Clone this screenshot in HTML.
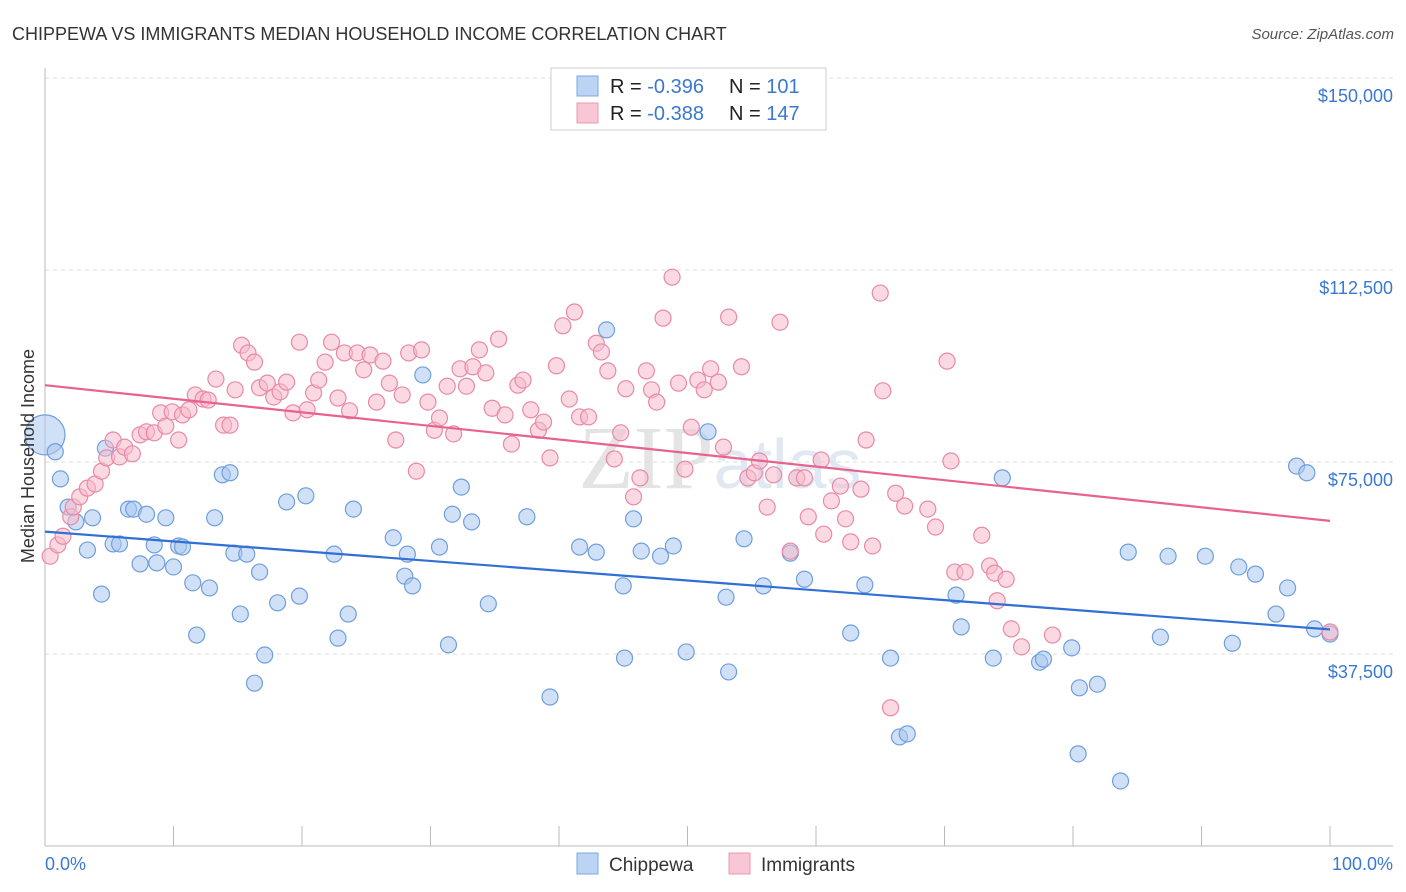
<!DOCTYPE html>
<html><head><meta charset="utf-8"><style>
body{margin:0;background:#fff;font-family:"Liberation Sans",sans-serif;}
svg{display:block}
</style></head><body>
<svg id="chart" width="1406" height="892">
<text x="12" y="40" font-size="18" fill="#333">CHIPPEWA VS IMMIGRANTS MEDIAN HOUSEHOLD INCOME CORRELATION CHART</text>
<text x="1394" y="39" font-size="15" fill="#555" font-style="italic" text-anchor="end">Source: ZipAtlas.com</text>
<text x="720" y="488" font-size="90" fill="#e4e4e4" text-anchor="middle" font-family="Liberation Serif,serif">ZIP<tspan fill="#dfe8f3" font-family="Liberation Sans,sans-serif" font-size="70">atlas</tspan></text>
<g id="grid"></g><g id="axes"></g><g id="pts"></g><g id="lines"></g>
<g>
<rect x="551" y="68" width="275" height="62" fill="#fff" stroke="#ccc"/>
<rect x="577" y="76" width="21" height="20" fill="#bcd4f3" stroke="#7aa8e0"/>
<rect x="577" y="103" width="21" height="20" fill="#f8c6d4" stroke="#eb98b4"/>
<text x="610" y="93" font-size="20" fill="#222">R = <tspan fill="#3b78d0">-0.396</tspan><tspan x="729">N = </tspan><tspan fill="#3b78d0">101</tspan></text>
<text x="610" y="120" font-size="20" fill="#222">R = <tspan fill="#3b78d0">-0.388</tspan><tspan x="729">N = </tspan><tspan fill="#3b78d0">147</tspan></text>
</g>
<g>
<rect x="577" y="853" width="21" height="21" fill="#bcd4f3" stroke="#7aa8e0"/>
<text x="609" y="871" font-size="19" fill="#333">Chippewa</text>
<rect x="729" y="853" width="21" height="21" fill="#f8c6d4" stroke="#eb98b4"/>
<text x="761" y="871" font-size="19" fill="#333">Immigrants</text>
</g>
<text transform="translate(34,456) rotate(-90)" font-size="18" fill="#333" text-anchor="middle">Median Household Income</text>
<text x="45" y="870" font-size="18" fill="#3b78d0">0.0%</text>
<text x="1393" y="870" font-size="18" fill="#3b78d0" text-anchor="end">100.0%</text>
</svg>
<script>
const yTickVals=[37500,75000,112500,150000];
const yTickLabels=["$37,500","$75,000","$112,500","$150,000"];
const chipX=[0,0.8,1.2,1.8,2.4,3.7,3.3,4.4,4.7,5.3,5.8,6.5,6.9,7.4,7.9,8.5,8.7,9.4,10.0,10.4,10.7,11.5,11.8,12.8,13.2,13.8,14.4,14.7,15.2,15.7,16.3,16.7,17.1,18.1,18.8,19.8,20.3,22.5,22.8,23.6,24.0,27.1,28.0,28.2,28.6,29.4,30.7,31.4,31.7,32.4,33.2,34.5,37.5,39.3,41.6,42.9,43.7,45.0,45.1,45.8,46.4,47.9,48.9,49.9,51.6,53.0,53.2,54.4,55.9,58.0,59.1,62.7,63.8,65.8,66.5,67.1,70.9,71.3,73.8,74.5,77.4,77.7,79.9,80.5,81.9,80.4,83.7,84.3,86.8,87.4,90.3,92.4,92.9,94.2,95.8,96.7,97.4,98.2,98.8,100];
const chipY=[80.3,77.0,71.7,66.2,63.3,64.1,57.8,49.2,77.7,59.0,59.0,65.8,65.8,55.1,64.8,58.8,55.3,64.1,54.5,58.6,58.4,51.4,41.2,50.4,64.1,72.5,72.9,57.2,45.3,57.0,31.8,53.5,37.3,47.5,67.2,48.8,68.4,57.0,40.6,45.3,65.8,60.2,52.7,57.0,50.8,92.0,58.4,39.3,64.8,70.1,63.3,47.3,64.3,29.1,58.4,57.4,100.8,50.8,36.7,63.9,57.6,56.6,58.6,37.9,80.9,48.6,34.0,60.0,50.8,57.2,52.1,41.6,51.0,36.7,21.3,21.9,49.0,42.8,36.7,71.9,35.9,36.5,38.7,30.9,31.6,18.0,12.7,57.4,40.8,56.6,56.6,39.6,54.5,53.1,45.3,50.4,74.2,72.9,42.4,41.4];
const immX=[0.4,1.0,1.4,2.0,2.2,2.7,3.3,3.9,4.4,4.8,5.3,5.8,6.2,6.8,7.4,7.9,8.5,9.0,9.4,9.9,10.4,10.7,11.2,11.7,12.3,12.7,13.3,13.9,14.4,14.8,15.3,15.8,16.3,16.7,17.3,17.8,18.3,18.8,19.3,19.8,20.4,20.9,21.3,21.8,22.3,22.8,23.3,23.7,24.3,24.8,25.3,25.8,26.3,26.8,27.3,27.8,28.3,28.9,29.3,29.8,30.3,30.7,31.3,31.8,32.3,32.8,33.3,33.8,34.3,34.8,35.3,35.8,36.3,36.8,37.2,37.8,38.4,38.8,39.3,39.8,40.3,40.8,41.2,41.6,42.3,42.9,43.3,43.8,44.3,44.8,45.2,45.8,46.3,46.8,47.2,47.6,48.1,48.8,49.3,49.8,50.3,50.8,51.3,51.8,52.4,52.8,53.2,54.2,54.7,55.2,55.6,56.2,56.7,57.2,58.0,58.5,59.1,59.4,60.4,60.6,61.2,61.9,62.3,62.7,63.5,63.9,64.4,65.0,65.2,65.8,66.2,66.9,68.7,69.3,70.2,70.5,70.8,71.6,72.9,73.5,73.9,74.1,74.8,75.2,76.0,78.4,100];
const immY=[56.6,58.8,60.5,64.3,66.2,68.2,69.9,70.7,73.2,75.8,79.3,76.0,77.9,76.6,80.3,80.9,80.7,84.6,82.0,84.8,79.3,84.2,85.2,88.1,87.3,87.1,91.2,82.2,82.2,89.1,97.8,96.3,94.5,89.5,90.4,87.7,88.7,90.6,84.6,98.4,85.2,88.5,91.0,94.5,98.4,87.5,96.3,85.0,96.3,93.0,95.9,86.7,94.7,90.4,79.3,88.1,96.3,73.2,96.9,86.7,81.2,83.6,89.8,80.5,93.2,89.8,93.6,96.9,92.4,85.5,99.0,84.2,78.5,90.0,91.0,85.2,81.2,82.8,75.8,93.8,101.6,87.3,104.3,83.8,83.8,98.2,96.5,92.8,75.6,80.7,89.3,68.2,71.9,92.8,89.1,86.7,103.1,111.1,90.4,73.6,81.8,91.0,89.1,93.2,90.6,77.9,103.3,93.6,71.9,72.9,75.2,66.2,72.5,102.3,57.6,71.9,71.9,64.3,75.4,60.9,67.4,70.3,63.9,59.4,69.7,79.3,58.6,108.0,88.9,27.0,68.9,66.4,65.8,62.3,94.7,75.2,53.5,53.5,60.7,54.7,53.3,47.9,52.1,42.4,38.9,41.2,41.8];
const chipTrend=[61.4,42.3];
const immTrend=[90.0,63.5];
const NS="http://www.w3.org/2000/svg";
const X0=45,X1=1330;
function xs(p){return X0+(X1-X0)*p/100;}
function ys(v){return 846-v/37500*192;}
function mk(tag,attrs,parent){const e=document.createElementNS(NS,tag);for(const k in attrs)e.setAttribute(k,attrs[k]);parent.appendChild(e);return e;}
const grid=document.getElementById('grid'),axes=document.getElementById('axes'),pts=document.getElementById('pts'),lines=document.getElementById('lines');
yTickVals.forEach((v,i)=>{
 const y=ys(v);
 const l=mk('line',{x1:X0,x2:1393,y1:y,y2:y,stroke:'#ddd','stroke-dasharray':'4,4'},grid);
 
 
 const t=mk('text',{x:1393,y:y+24,'font-size':18,fill:'#3b78d0','text-anchor':'end'},axes);
 t.textContent=yTickLabels[i];
 
 
});
const ax=mk('line',{x1:X0,x2:1393,y1:846,y2:846,stroke:'#bbb'},axes);


const ay=mk('line',{x1:X0,x2:X0,y1:68,y2:846,stroke:'#bbb'},axes);


for(let i=0;i<=10;i++){
 const tk=mk('line',{x1:xs(i*10),x2:xs(i*10),y1:826,y2:846,stroke:'#bbb'},axes);
 
 
}
function scatter(X,Y,fill,stroke,name){
 X.forEach((x,i)=>{
  const r=(name==='chippewa-point'&&i===0)?20:8;
  const c=mk('circle',{cx:xs(x),cy:ys(Y[i]*1000),r:r,fill:fill,'fill-opacity':0.55,stroke:stroke,'stroke-width':1.2},pts);
  
  
 });
}
scatter(chipX,chipY,'#a9c7ef','#6f9fdc','chippewa-point');
scatter(immX,immY,'#f6b9cb','#e88aa8','immigrants-point');
const l1=mk('line',{x1:xs(0),x2:xs(100),y1:ys(chipTrend[0]*1000),y2:ys(chipTrend[1]*1000),stroke:'#2f6fd6','stroke-width':2.2},lines);


const l2=mk('line',{x1:xs(0),x2:xs(100),y1:ys(immTrend[0]*1000),y2:ys(immTrend[1]*1000),stroke:'#e8628f','stroke-width':2.2},lines);


</script>
</body></html>
